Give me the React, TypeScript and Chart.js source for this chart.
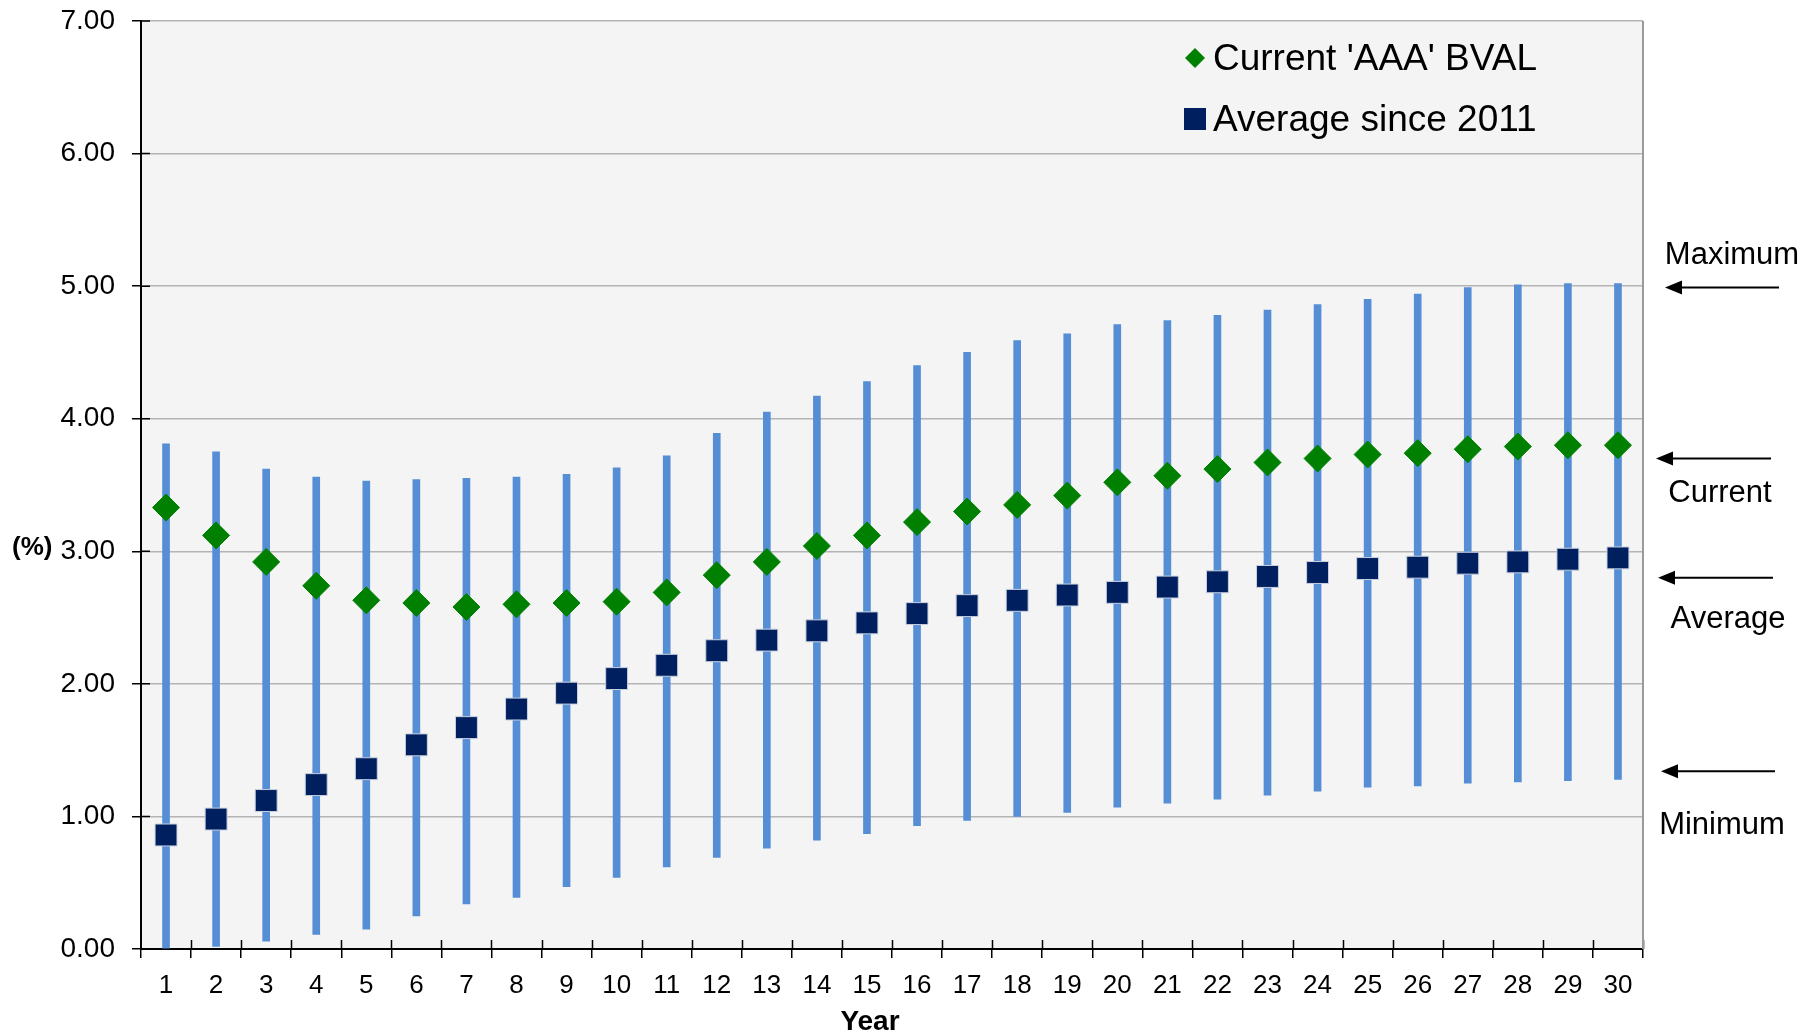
import React, { useEffect, useRef } from 'react';
import { Chart, registerables } from 'chart.js';

Chart.register(...registerables);

const YEARS = ['1','2','3','4','5','6','7','8','9','10','11','12','13','14','15','16','17','18','19','20','21','22','23','24','25','26','27','28','29','30'];
const CURRENT_AAA = [3.33,3.12,2.92,2.74,2.63,2.61,2.58,2.60,2.61,2.62,2.69,2.82,2.92,3.04,3.12,3.22,3.30,3.35,3.42,3.52,3.57,3.62,3.67,3.70,3.73,3.74,3.77,3.79,3.80,3.80];
const AVERAGE_SINCE_2011 = [0.86,0.98,1.12,1.24,1.36,1.54,1.67,1.81,1.93,2.04,2.14,2.25,2.33,2.40,2.46,2.53,2.59,2.63,2.67,2.69,2.73,2.77,2.81,2.84,2.87,2.88,2.91,2.92,2.94,2.95];
const RANGE_MIN = [0.00,0.02,0.06,0.11,0.15,0.25,0.34,0.39,0.47,0.54,0.62,0.69,0.76,0.82,0.87,0.93,0.97,1.00,1.03,1.07,1.10,1.13,1.16,1.19,1.22,1.23,1.25,1.26,1.27,1.28];
const RANGE_MAX = [3.81,3.75,3.62,3.56,3.53,3.54,3.55,3.56,3.58,3.63,3.72,3.89,4.05,4.17,4.28,4.40,4.50,4.59,4.64,4.71,4.74,4.78,4.82,4.86,4.90,4.94,4.99,5.01,5.02,5.02];
const Y_MIN = 0;
const Y_MAX = 7;
const Y_STEP = 1;
const LEGEND_LABELS = ["Current 'AAA' BVAL", 'Average since 2011'];
const ANNOTATION_LABELS = ['Maximum', 'Current', 'Average', 'Minimum'];
const ANNOTATION_VALUES = [4.99, 3.70, 2.80, 1.34];
const X_TITLE = 'Year';
const Y_TITLE = '(%)';

// layout / style constants (not data)
const FONT = '"Liberation Sans", Arial, sans-serif';
const GREEN = '#008000';
const NAVY = '#001F5F';
const BAR_BLUE = '#558ED5';
const ANNOT_LAYOUT = [
  { textX: 1732, textDy: -23, arrowX1: 1665, arrowX2: 1779 },
  { textX: 1720, textDy: 44, arrowX1: 1656, arrowX2: 1771 },
  { textX: 1728, textDy: 50, arrowX1: 1658, arrowX2: 1773 },
  { textX: 1722, textDy: 63, arrowX1: 1661, arrowX2: 1775 },
];

const decorPlugin = {
  id: 'decor',
  beforeDraw(chart: any) {
    const { ctx, chartArea: a } = chart;
    ctx.save();
    ctx.fillStyle = '#f4f4f4';
    ctx.fillRect(a.left, a.top, a.right - a.left, a.bottom - a.top);
    ctx.restore();
  },
  beforeDatasetsDraw(chart: any) {
    const { ctx, chartArea: a, scales } = chart;
    ctx.save();
    ctx.strokeStyle = '#000';
    ctx.lineWidth = 1.5;
    const n = YEARS.length;
    const w = (a.right - a.left) / n;
    ctx.beginPath();
    for (let i = 1; i <= n; i++) {
      const x = Math.round(a.left + i * w) + 0.5;
      ctx.moveTo(x, a.bottom);
      ctx.lineTo(x, a.bottom - 9);
    }
    for (let v = Y_MIN; v <= Y_MAX; v += Y_STEP) {
      const y = scales.y.getPixelForValue(v);
      ctx.moveTo(a.left, y);
      ctx.lineTo(a.left + 9, y);
    }
    ctx.stroke();
    ctx.strokeStyle = '#9a9a9a';
    ctx.lineWidth = 2;
    ctx.beginPath();
    ctx.moveTo(a.right, a.top);
    ctx.lineTo(a.right, a.bottom);
    ctx.stroke();
    ctx.restore();
  },
  afterDraw(chart: any) {
    const { ctx, scales } = chart;
    ctx.save();
    // legend
    ctx.font = `37px ${FONT}`;
    ctx.textBaseline = 'alphabetic';
    ctx.textAlign = 'left';
    ctx.fillStyle = GREEN;
    ctx.beginPath();
    ctx.moveTo(1185, 58); ctx.lineTo(1195, 48); ctx.lineTo(1205, 58); ctx.lineTo(1195, 68);
    ctx.closePath();
    ctx.fill();
    ctx.fillStyle = NAVY;
    ctx.fillRect(1184, 108, 22, 22);
    ctx.fillStyle = '#000';
    ctx.fillText(LEGEND_LABELS[0], 1213, 70);
    ctx.fillText(LEGEND_LABELS[1], 1213, 131);

    // axis titles
    ctx.font = `bold 26px ${FONT}`;
    ctx.textAlign = 'left';
    ctx.fillText(Y_TITLE, 12, 555);
    ctx.font = `bold 28px ${FONT}`;
    ctx.textAlign = 'center';
    ctx.fillText(X_TITLE, 870, 1030);

    // right-side annotations
    ctx.font = `31px ${FONT}`;
    ctx.textAlign = 'center';
    ctx.strokeStyle = '#000';
    ctx.lineWidth = 2;
    ANNOTATION_LABELS.forEach((label, i) => {
      const L = ANNOT_LAYOUT[i];
      const y = scales.y.getPixelForValue(ANNOTATION_VALUES[i]);
      ctx.fillStyle = '#000';
      ctx.fillText(label, L.textX, y + L.textDy);
      ctx.beginPath();
      ctx.moveTo(L.arrowX1 + 14, y);
      ctx.lineTo(L.arrowX2, y);
      ctx.stroke();
      ctx.beginPath();
      ctx.moveTo(L.arrowX1, y);
      ctx.lineTo(L.arrowX1 + 17, y - 7);
      ctx.lineTo(L.arrowX1 + 17, y + 7);
      ctx.closePath();
      ctx.fill();
    });
    ctx.restore();
  },
};

export default function App() {
  const ref = useRef<HTMLCanvasElement | null>(null);
  useEffect(() => {
    document.body.style.margin = '0';
    document.body.style.overflow = 'hidden';
    document.body.style.background = '#ffffff';
    const canvas = ref.current;
    if (!canvas) return;
    Chart.defaults.font.family = FONT;
    const chart = new Chart(canvas, {
      type: 'bar',
      data: {
        labels: YEARS,
        datasets: [
          {
            type: 'line',
            label: LEGEND_LABELS[0],
            data: CURRENT_AAA,
            showLine: false,
            pointStyle: 'rectRot',
            pointRadius: 13.5,
            pointBackgroundColor: GREEN,
            pointBorderColor: GREEN,
            pointBorderWidth: 1,
            order: 1,
          } as any,
          {
            type: 'line',
            label: LEGEND_LABELS[1],
            data: AVERAGE_SINCE_2011,
            showLine: false,
            pointStyle: 'rect',
            pointRadius: 15.5,
            pointBackgroundColor: NAVY,
            pointBorderColor: '#c8d0e0',
            pointBorderWidth: 1,
            order: 2,
          } as any,
          {
            type: 'bar',
            label: 'Range',
            data: RANGE_MIN.map((v, i) => [v, RANGE_MAX[i]]),
            backgroundColor: BAR_BLUE,
            borderWidth: 0,
            barThickness: 7,
            order: 3,
          } as any,
        ],
      },
      options: {
        responsive: false,
        animation: false,
        events: [],
        layout: { padding: { left: 0, top: 21, right: 165, bottom: 0 } },
        plugins: { legend: { display: false }, tooltip: { enabled: false } },
        scales: {
          x: {
            type: 'category',
            offset: true,
            grid: {
              display: true,
              offset: true,
              drawOnChartArea: false,
              drawTicks: true,
              tickLength: 9,
              color: '#000',
              lineWidth: 1.5,
            },
            border: { display: true, color: '#000', width: 2 },
            ticks: {
              color: '#000',
              font: { size: 26, family: FONT },
              padding: 12,
              maxRotation: 0,
              autoSkip: false,
            },
            afterFit: (s: any) => { s.height = 85; s.paddingLeft = 0; s.paddingRight = 0; },
          },
          y: {
            min: Y_MIN,
            max: Y_MAX,
            grid: {
              color: '#b4b4b4',
              lineWidth: 1.5,
              tickLength: 9,
              tickColor: '#000',
              tickWidth: 1.5,
            },
            border: { display: true, color: '#000', width: 2 },
            ticks: {
              stepSize: Y_STEP,
              color: '#000',
              font: { size: 28, family: FONT },
              padding: 17,
              callback: (v: any) => Number(v).toFixed(2),
            },
            afterFit: (s: any) => { s.width = 141; s.paddingTop = 0; s.paddingBottom = 0; },
          },
        },
      },
      plugins: [decorPlugin],
    } as any);
    return () => chart.destroy();
  }, []);
  return <canvas ref={ref} width={1808} height={1034} style={{ display: 'block', width: 1808, height: 1034 }} />;
}
